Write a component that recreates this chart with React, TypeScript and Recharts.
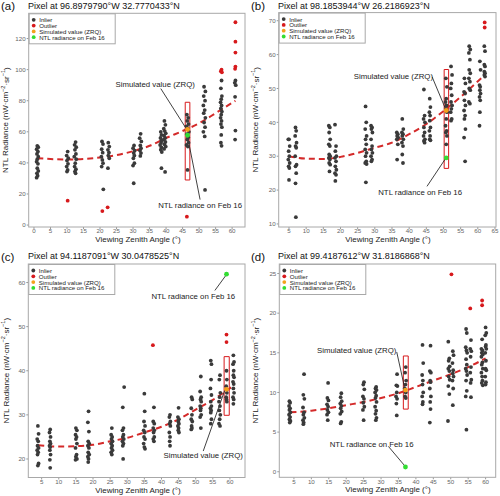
import {
  ComposedChart,
  Scatter,
  Line,
  XAxis,
  YAxis,
  ReferenceArea,
  ReferenceLine,
  ReferenceDot,
} from "recharts";

type Pt = [number, number];

// ---- panel (a) ----
const aInliers: Pt[] = [
  [1.0, 51], [1.3, 50.1], [0.8, 48.8], [1.2, 47.3], [0.9, 45.8], [1.3, 44], [1.0, 42.4], [0.8, 40.8], [1.2, 39.4], [1.0, 36.6], [1.3, 34.8], [0.9, 33.3], [1.1, 31.8], [0.8, 30.5],
  [10.2, 47.3], [9.9, 44.7], [10.4, 43], [10.0, 41.5], [10.3, 39.4], [9.9, 37.6], [10.2, 35.5], [10.0, 34.4],
  [12.6, 53.4], [12.3, 51.6], [12.8, 50.1], [12.4, 48.4], [12.7, 45.8], [12.2, 44], [12.8, 42.4], [12.5, 39.8], [12.3, 37.6], [12.7, 35.9], [12.4, 34.4], [12.6, 33.3],
  [20.6, 53.8], [20.9, 52.1], [20.5, 48.8], [20.8, 46.6], [20.4, 44], [20.7, 41.9], [20.9, 39.8], [20.5, 37.6], [21.0, 23],
  [22.5, 53], [22.8, 50.5], [22.4, 48.4], [22.7, 46.6], [22.5, 44.7], [22.8, 43], [22.4, 36.6],
  [30.3, 51.2], [30.0, 49.5], [30.5, 47.9], [30.2, 46.3], [30.4, 44.7], [30.1, 43], [30.4, 39.8], [30.0, 38.3], [30.2, 26.9],
  [32.3, 58.7], [32.0, 55.9], [32.5, 53.8], [32.2, 51.2], [32.4, 49.5], [32.1, 47.9], [32.4, 46.3], [32.2, 44.5],
  [38.4, 60], [38.6, 58], [38.3, 56], [38.7, 54.5], [38.5, 53], [38.2, 51.5], [38.6, 50], [38.4, 48.5], [38.7, 47], [38.6, 36.6],
  [39.5, 67], [39.8, 64.5], [39.3, 62], [39.6, 60.5], [39.9, 59], [39.4, 57.5], [39.7, 56], [39.3, 55], [39.8, 53.5], [39.5, 52], [39.9, 50.5], [39.4, 49], [39.7, 34.2],
  [46.3, 71], [46.7, 69], [46.4, 67], [46.8, 65], [46.2, 63.5], [46.6, 62], [46.9, 60], [46.3, 58.5], [46.7, 56.5], [46.4, 55], [46.8, 53], [46.2, 51.5], [46.6, 50.5], [46.5, 35.5],
  [51.5, 89], [51.9, 86], [51.4, 83], [51.8, 80], [51.3, 77], [51.7, 74], [51.4, 72], [51.9, 69], [51.5, 66], [51.8, 63], [51.3, 60], [51.7, 57], [51.8, 22.6],
  [56.8, 93], [56.6, 88], [56.9, 83], [56.7, 81], [56.5, 79], [56.8, 77], [56.6, 75], [56.9, 73], [56.7, 71], [56.5, 69], [56.8, 67], [56.6, 65], [56.9, 63], [56.7, 58], [56.6, 53], [56.8, 51],
  [61.0, 93], [60.8, 91.5], [61.1, 90], [60.9, 82.5], [61.0, 60.8], [60.9, 55],
];
const aOutliers: Pt[] = [
  [10.2, 15.7], [20.7, 9], [22.3, 11.4], [46.3, 5.4], [56.8, 100], [56.6, 99], [56.9, 98.3],
  [61.0, 130.5], [61.0, 118], [61.0, 111], [61.0, 102], [60.9, 100.5],
];
const aSimulated: Pt[] = [[46.5, 61.5]];
const aFeb16: Pt[] = [[46.5, 57.8]];
const aTrend: Pt[] = [
  [1, 43], [5, 42.5], [10, 42.2], [15, 42.5], [20, 43.5], [25, 45], [30, 47.5], [35, 51], [40, 56], [45, 60.5], [50, 65.5], [55, 72], [61, 80],
];
const aXTicks = [0, 5, 10, 15, 20, 25, 30, 35, 40, 45, 50, 55, 60];
const aYTicks = [0, 20, 40, 60, 80, 100, 120];

// ---- panel (b) ----
const bInliers: Pt[] = [
  [5.0, 35], [4.8, 35], [5.2, 33], [4.9, 31.5], [5.1, 30], [4.8, 29], [5.2, 28], [4.9, 27], [5.1, 26.5], [5.0, 23],
  [6.9, 38.5], [7.1, 37.5], [6.8, 36], [7.2, 34], [6.9, 33], [7.1, 32.5], [6.8, 30], [7.2, 27.5], [6.9, 27], [7.1, 25], [6.9, 22], [7.0, 12],
  [16.6, 39], [16.9, 38.5], [16.7, 37], [17.0, 35], [16.6, 33.5], [16.9, 33], [16.7, 30.5], [17.0, 30], [16.6, 29.5], [16.9, 29], [16.7, 28], [17.0, 27.5], [16.8, 25.5],
  [18.4, 39.3], [18.7, 33], [18.5, 31.5], [18.8, 30], [18.4, 29.5], [18.7, 28.5], [18.5, 27], [18.8, 26], [18.4, 25], [18.7, 24.5], [18.5, 22.7],
  [27.3, 44.7], [27.5, 40], [27.2, 38], [27.6, 36], [27.3, 35], [27.5, 33.5], [27.2, 32], [27.6, 31], [27.3, 30], [27.5, 28.5], [27.2, 28], [27.6, 27.7], [27.4, 22.3],
  [28.9, 39], [29.2, 38.5], [29.0, 38], [29.3, 37], [28.9, 35], [29.2, 33], [29.0, 32], [29.3, 31], [28.9, 30], [29.2, 29], [29.0, 28.5],
  [36.4, 37], [36.7, 36.5], [36.5, 36], [36.8, 35.5], [36.4, 35], [36.7, 33.5], [36.5, 29],
  [38.0, 41], [38.3, 38], [37.9, 37], [38.2, 36.5], [38.0, 36], [38.3, 35], [37.9, 34], [38.2, 33], [38.0, 30.5], [38.2, 28],
  [44.3, 49.7], [44.5, 42], [44.2, 41], [44.6, 40], [44.3, 38.5], [44.5, 37], [44.2, 36], [44.6, 35], [44.3, 34.5], [44.5, 34],
  [46.0, 47], [46.2, 44.5], [45.9, 43], [46.1, 42], [46.0, 40.5], [46.2, 38.5], [45.9, 37.5], [46.1, 36], [46.0, 35], [46.2, 34.7],
  [50.7, 53], [51.0, 50.5], [50.8, 47], [50.6, 46], [50.9, 45], [50.7, 44], [51.0, 43], [50.8, 41], [50.6, 39], [50.9, 37.5], [50.7, 37], [51.0, 36], [50.8, 33.5],
  [52.2, 56.5], [52.5, 54], [52.3, 51.5], [52.1, 50], [52.4, 48], [52.2, 46], [52.5, 45], [52.3, 44], [52.1, 43], [52.4, 41], [52.2, 40.5],
  [56.1, 53], [56.4, 51.5], [56.0, 49], [56.3, 48.5], [56.1, 46.5], [56.4, 45], [56.0, 43.5], [56.3, 42], [56.1, 41], [56.4, 38], [56.0, 35.5], [56.3, 28.5],
  [57.5, 62.5], [57.8, 61.5], [57.4, 60.5], [57.7, 58.5], [57.5, 55.5], [57.8, 54.5], [57.4, 53], [57.7, 52], [57.5, 50], [57.8, 49.5], [57.4, 46], [57.7, 45.5],
  [60.6, 58], [60.8, 55.5], [60.5, 51], [60.7, 50.5], [60.6, 49.5], [60.8, 48.5], [60.5, 47.5], [60.7, 46.5], [60.6, 43], [60.5, 39],
  [61.9, 62.5], [62.1, 61], [61.9, 57], [62.1, 56.5], [61.9, 55], [62.1, 54.5], [61.9, 54], [62.1, 53.5],
];
const bOutliers: Pt[] = [[62.0, 69.5], [62.0, 68]];
const bSimulated: Pt[] = [[50.8, 43.5]];
const bFeb16: Pt[] = [[50.8, 29.5]];
const bTrend: Pt[] = [
  [5, 30], [10, 29.3], [15, 29.2], [20, 29.8], [25, 31], [30, 32.5], [35, 34], [40, 36.5], [45, 39.5], [50, 43.3], [55, 47.5], [62, 54],
];
const bXTicks = [5, 10, 15, 20, 25, 30, 35, 40, 45, 50, 55, 60, 65];
const bYTicks = [10, 20, 30, 40, 50, 60, 70];

// ---- panel (c) ----
const cInliers: Pt[] = [
  [3.9, 27.5], [4.1, 25.7], [3.7, 24.5], [4.0, 24], [3.8, 23], [4.1, 22.5], [3.7, 22], [4.0, 21.5], [3.8, 21], [4.1, 19], [3.9, 18.5],
  [7.5, 26.7], [7.3, 26], [7.6, 25], [7.4, 24], [7.6, 23.5], [7.3, 23], [7.5, 22.7], [7.4, 22], [7.6, 21], [7.4, 19.8], [7.5, 18],
  [15.0, 27], [15.3, 26.5], [14.9, 25.5], [15.2, 25], [15.0, 24.5], [15.3, 23.5], [14.9, 22.5], [15.2, 21], [15.0, 20.5], [15.3, 20], [14.9, 19.8],
  [18.7, 30.8], [18.5, 28.3], [18.8, 26.2], [18.6, 24], [18.9, 23.5], [18.5, 23], [18.8, 22.5], [18.6, 21.5], [18.9, 21], [18.5, 20.5], [18.7, 20], [18.6, 19.3],
  [25.5, 27], [25.3, 25.5], [25.6, 25], [25.4, 24.5], [25.7, 24], [25.3, 23.5], [25.6, 23], [25.4, 22.5], [25.7, 22], [25.3, 21.5], [25.5, 21],
  [29.1, 36.3], [28.7, 31.7], [28.9, 27], [28.6, 26.5], [28.9, 25.5], [28.7, 25], [29.0, 24.5], [28.6, 24], [28.9, 23.5], [28.7, 23], [28.8, 20],
  [35.0, 34.8], [35.1, 30.8], [34.9, 28.5], [35.2, 27.5], [34.8, 26.5], [35.1, 26], [34.9, 25], [35.2, 24.5], [34.8, 23.5], [35.0, 22.7], [35.2, 22.3],
  [37.8, 31.7], [37.6, 28.5], [37.9, 28], [37.6, 27], [37.9, 26.5], [37.7, 26], [37.9, 25], [37.6, 24.5], [37.8, 24],
  [42.5, 30], [42.3, 29.5], [42.6, 28.5], [42.4, 28], [42.6, 27.5], [42.3, 26], [42.5, 25], [42.4, 24], [42.5, 23],
  [45.0, 31.6], [44.8, 29.5], [45.1, 29], [44.9, 28.5], [45.1, 28], [44.8, 27.5], [45.0, 27], [44.9, 26.5], [45.1, 26],
  [48.8, 34], [49.0, 33.5], [48.7, 31.5], [48.9, 30], [48.7, 29], [49.0, 28.5], [48.8, 27.5], [48.9, 27], [48.7, 26.7],
  [51.5, 38.7], [51.3, 35.3], [51.6, 34], [51.4, 33.5], [51.6, 33], [51.3, 32], [51.5, 31.5], [51.4, 31], [51.6, 30], [51.3, 29.5], [51.5, 27],
  [54.4, 42.3], [54.6, 41.5], [54.5, 38], [54.3, 36], [54.6, 34.5], [54.4, 33], [54.6, 32], [54.3, 31.5], [54.5, 31], [54.4, 30.5], [54.6, 29], [54.4, 28],
  [57.1, 39], [56.9, 38], [57.2, 35], [57.0, 34], [56.8, 33], [57.1, 32], [56.9, 31], [57.2, 30], [57.0, 29], [56.8, 28], [57.1, 27.5],
  [59.0, 40], [59.1, 38], [58.9, 36.5], [59.1, 35], [58.9, 34], [59.0, 33.5], [59.1, 33],
  [61.0, 43.5], [61.2, 42], [60.9, 41.5], [61.1, 40], [61.0, 39], [61.2, 38.5], [60.9, 37.5], [61.1, 37], [61.0, 36], [61.2, 35], [60.9, 34], [61.1, 33.5], [61.0, 32.5],
];
const cOutliers: Pt[] = [[37.5, 45.8], [59.0, 48.2], [59.0, 46.5]];
const cSimulated: Pt[] = [[59.0, 35.8]];
const cFeb16: Pt[] = [[59.0, 61.9]];
const cTrend: Pt[] = [
  [4, 23.1], [10, 22.8], [15, 22.9], [20, 23.2], [25, 24], [30, 24.8], [35, 26], [40, 27.3], [45, 29], [50, 31.2], [55, 33.4], [61, 36.6],
];
const cXTicks = [5, 10, 15, 20, 25, 30, 35, 40, 45, 50, 55, 60];
const cYTicks = [20, 30, 40, 50, 60];

// ---- panel (d) ----
const dInliers: Pt[] = [
  [3.7, 8.9], [3.9, 8.7], [3.6, 8.3], [3.9, 8], [3.7, 7.8], [4.0, 7.5], [3.6, 7.2], [3.9, 6.9], [3.7, 6.6], [4.0, 6.4], [3.8, 6.2],
  [7.9, 12.3], [7.7, 9.7], [8.0, 9.2], [7.6, 8.1], [7.9, 7.5], [7.7, 7.2], [8.0, 6.8], [7.6, 6.5], [7.8, 6.2], [7.7, 6.0],
  [14.8, 11.2], [14.6, 9.3], [14.9, 9], [14.5, 8.5], [14.8, 8.2], [14.6, 7.8], [14.9, 7.5], [14.5, 7.2], [14.7, 6.5],
  [18.6, 9.9], [18.4, 9.4], [18.7, 8.9], [18.3, 8.6], [18.6, 8.3], [18.4, 8], [18.7, 7.6], [18.3, 7.3], [18.6, 6.3], [18.4, 6.1],
  [25.1, 11.3], [24.9, 11], [25.2, 10.4], [24.8, 9.5], [25.1, 9.2], [24.9, 8.7], [25.2, 8.2], [24.8, 7.8], [25.0, 6.5],
  [28.6, 10.7], [28.4, 10.5], [28.7, 10.3], [28.3, 10], [28.6, 9.6], [28.4, 9.3], [28.7, 8.8], [28.3, 8.2], [28.6, 7.7], [28.4, 7.3], [28.7, 6.8], [28.5, 6.5],
  [34.6, 12.3], [34.4, 10.9], [34.7, 10.8], [34.5, 10], [34.3, 9.5], [34.6, 9.2], [34.4, 8.6], [34.5, 7.1],
  [37.1, 13.2], [36.9, 12.5], [37.2, 11.5], [37.0, 11], [36.8, 10.5], [37.1, 10], [36.9, 9.5], [37.1, 9.3],
  [41.9, 16], [42.1, 13.7], [41.8, 12.2], [42.0, 11.5], [41.9, 11], [42.1, 10], [41.8, 9.5], [42.0, 8.8], [41.9, 8.5],
  [44.2, 15.9], [44.0, 12.7], [44.3, 12.5], [44.1, 11.5], [44.2, 11.3], [44.0, 10.5], [44.3, 9.5], [44.1, 8.8], [44.2, 7.9], [44.0, 6.2],
  [49.3, 16.4], [49.6, 14.3], [49.4, 14], [49.7, 13.3], [49.3, 13], [49.6, 12.7], [49.4, 12], [49.7, 11.6], [49.3, 10.8], [49.6, 9.8], [49.2, 6.4],
  [50.6, 15.2], [50.8, 14.7], [50.5, 13.7], [50.7, 12.8], [50.6, 12.4], [50.8, 12], [50.5, 11.5], [50.7, 10.5], [50.6, 8.4],
  [54.4, 18], [54.6, 17.5], [54.3, 15.7], [54.5, 15.3], [54.7, 15], [54.4, 14.2], [54.6, 13.5], [54.3, 13], [54.5, 12.7], [54.7, 12.2], [54.4, 11.5], [54.6, 10.2], [54.3, 9.5], [54.5, 5.3],
  [55.8, 16.6], [55.6, 15.5], [55.9, 15.2], [55.7, 14.5], [55.8, 13.2], [55.6, 12.5], [55.9, 11.6], [55.7, 11.2], [55.8, 9.4],
  [59.0, 16.7], [58.8, 15.5], [59.1, 15.3], [58.9, 15], [59.2, 14.8], [58.8, 14.5], [59.1, 13.8], [58.9, 13.5], [59.2, 13], [58.8, 12.5], [59.0, 12], [59.1, 11.5], [58.9, 11.2], [59.2, 10.9],
  [60.0, 18.2], [60.2, 17.5], [59.9, 17.2], [60.1, 16], [60.0, 15.8], [60.2, 15.5], [59.9, 15], [60.1, 14], [60.0, 13], [60.2, 12.8], [59.9, 12], [60.1, 11.3], [60.0, 11],
];
const dOutliers: Pt[] = [[50.2, 24.9], [55.6, 20.6], [59.0, 21.6], [59.0, 21]];
const dSimulated: Pt[] = [[37.0, 10.3]];
const dFeb16: Pt[] = [[37.0, 0.6]];
const dTrend: Pt[] = [
  [4, 7.5], [10, 7.7], [15, 8], [20, 8.4], [25, 8.8], [30, 9.3], [35, 9.9], [40, 10.7], [45, 11.5], [50, 12.3], [55, 13.2], [60, 14.3],
];
const dXTicks = [5, 10, 15, 20, 25, 30, 35, 40, 45, 50, 55, 60];
const dYTicks = [0, 5, 10, 15, 20, 25];

const legendLabels = ["Inlier", "Outlier", "Simulated value (ZRQ)", "NTL radiance on Feb 16"];

const INLIER = "#3a3a3a";
const OUTLIER = "#d7191c";
const SIMULATED = "#f4a11c";
const FEB16 = "#33dd33";
const TREND = "#d42a2a";
const FONT = "'Liberation Sans', Arial, sans-serif";

const toXY = (pts: Pt[]) => pts.map(([x, y]) => ({ x, y }));

const dot = (color: string, r: number) => (p: any) =>
  <circle cx={p.cx} cy={p.cy} r={r} fill={color} />;

interface Note {
  text: string;
  at: Pt;
  from: Pt;
  to: Pt;
}

interface PanelProps {
  tag: string;
  title: string;
  box: { left: number; top: number; width: number; height: number };
  plot: { l: number; t: number; r: number; b: number };
  xDomain: [number, number];
  yDomain: [number, number];
  xTicks: number[];
  yTicks: number[];
  inliers: Pt[];
  outliers: Pt[];
  simulated: Pt[];
  feb16: Pt[];
  trend: Pt[];
  rect: [number, number, number, number];
  notes: Note[];
}

function Panel(p: PanelProps) {
  const { box, plot } = p;
  const tickStyle = { fontSize: 6.2, fill: "#666", fontFamily: FONT };
  return (
    <div style={{ position: "absolute", left: box.left, top: box.top, width: box.width, height: box.height }}>
      <ComposedChart
        width={box.width}
        height={box.height}
        margin={{ top: plot.t - box.top, right: box.left + box.width - plot.r, bottom: 0, left: 0 }}
      >
        <XAxis
          type="number"
          dataKey="x"
          domain={p.xDomain}
          ticks={p.xTicks}
          allowDataOverflow
          height={box.top + box.height - plot.b}
          tick={tickStyle}
          tickSize={2}
          tickMargin={0}
          axisLine={false}
          tickLine={{ stroke: "#999" }}
          interval={0}
        />
        <YAxis
          type="number"
          dataKey="y"
          domain={p.yDomain}
          ticks={p.yTicks}
          allowDataOverflow
          width={plot.l - box.left}
          tick={tickStyle}
          tickSize={2}
          tickMargin={1}
          axisLine={false}
          tickLine={{ stroke: "#999" }}
          interval={0}
        />
        <Scatter data={toXY(p.inliers)} fill={INLIER} shape={dot(INLIER, 1.9)} isAnimationActive={false} />
        <Scatter data={toXY(p.outliers)} fill={OUTLIER} shape={dot(OUTLIER, 1.9)} isAnimationActive={false} />
        <Line
          data={toXY(p.trend)}
          dataKey="y"
          type="monotone"
          stroke={TREND}
          strokeWidth={2}
          strokeDasharray="6 4"
          dot={false}
          activeDot={false}
          isAnimationActive={false}
        />
        <ReferenceArea
          x1={p.rect[0]}
          x2={p.rect[1]}
          y1={p.rect[2]}
          y2={p.rect[3]}
          fill="none"
          fillOpacity={0}
          stroke={OUTLIER}
          strokeWidth={1}
        />
        {p.notes.map((n, i) => (
          <ReferenceLine
            key={`l${i}`}
            segment={[{ x: n.from[0], y: n.from[1] }, { x: n.to[0], y: n.to[1] }]}
            stroke="#111"
            strokeWidth={0.8}
          />
        ))}
        {p.notes.map((n, i) => (
          <ReferenceDot
            key={`t${i}`}
            x={n.at[0]}
            y={n.at[1]}
            r={0}
            fill="none"
            stroke="none"
            label={{ value: n.text, position: "center", fontSize: 7.8, fill: "#222", fontFamily: FONT }}
          />
        ))}
        <Scatter data={toXY(p.feb16)} fill={FEB16} shape={dot(FEB16, 2.4)} isAnimationActive={false} />
        <Scatter data={toXY(p.simulated)} fill={SIMULATED} shape={dot(SIMULATED, 2.4)} isAnimationActive={false} />
      </ComposedChart>
    </div>
  );
}

function Decor({ p }: { p: PanelProps }) {
  const { box, plot } = p;
  const titleY = box.top === 0 ? 8.5 : 259;
  const midY = (plot.t + plot.b) / 2;
  const ytx = box.left + 6;
  const colors = [INLIER, OUTLIER, SIMULATED, FEB16];
  return (
    <g fontFamily={FONT}>
      <rect x={plot.l} y={plot.t} width={plot.r - plot.l} height={plot.b - plot.t} fill="none" stroke="#a8a8a8" strokeWidth={1} />
      <text x={box.left + 1} y={titleY + 1.5} fontSize={11.5} fill="#111">{p.tag}</text>
      <text x={box.left + 28} y={titleY} fontSize={9} fill="#111">{p.title}</text>
      <text
        x={ytx}
        y={midY}
        fontSize={8}
        fill="#222"
        textAnchor="middle"
        dominantBaseline="central"
        transform={`rotate(-90 ${ytx} ${midY})`}
      >
        NTL Radiance (nW·cm<tspan dy={-3} fontSize={5.5}>−2</tspan>
        <tspan dy={3}>·sr</tspan>
        <tspan dy={-3} fontSize={5.5}>−1</tspan>
        <tspan dy={3}>)</tspan>
      </text>
      <text x={box.left + 138} y={plot.b + 15} fontSize={8} fill="#222" textAnchor="middle">
        Viewing Zenith Angle (°)
      </text>
      <rect x={plot.l + 0.5} y={plot.t + 0.5} width={86} height={30} fill="#fff" stroke="#a8a8a8" strokeWidth={1} />
      {legendLabels.map((lab, i) => (
        <g key={lab}>
          <circle cx={plot.l + 5} cy={plot.t + 6.5 + i * 5.8} r={1.9} fill={colors[i]} />
          <text x={plot.l + 10.5} y={plot.t + 6.5 + i * 5.8} fontSize={6.1} fill="#222" dominantBaseline="central">
            {lab}
          </text>
        </g>
      ))}
    </g>
  );
}

const panels: PanelProps[] = [
  {
    tag: "(a)",
    title: "Pixel at 96.8979790°W 32.7770433°N",
    box: { left: 0, top: 0, width: 250, height: 248 },
    plot: { l: 28.7, t: 13.3, r: 245, b: 227 },
    xDomain: [-1.6, 63.9],
    yDomain: [-1.25, 136.25],
    xTicks: aXTicks,
    yTicks: aYTicks,
    inliers: aInliers,
    outliers: aOutliers,
    simulated: aSimulated,
    feb16: aFeb16,
    trend: aTrend,
    rect: [45.8, 47.2, 29, 79],
    notes: [
      { text: "Simulated value (ZRQ)", at: [36.7, 90.8], from: [38.4, 87.8], to: [46.0, 62.4] },
      { text: "NTL radiance on Feb 16", at: [50.3, 12.9], from: [50.3, 16.4], to: [46.4, 58] },
    ],
  },
  {
    tag: "(b)",
    title: "Pixel at 98.1853944°W 26.2186923°N",
    box: { left: 250, top: 0, width: 250, height: 248 },
    plot: { l: 278.7, t: 12.6, r: 496, b: 227 },
    xDomain: [2.0, 65.3],
    yDomain: [9.1, 72.4],
    xTicks: bXTicks,
    yTicks: bYTicks,
    inliers: bInliers,
    outliers: bOutliers,
    simulated: bSimulated,
    feb16: bFeb16,
    trend: bTrend,
    rect: [50.2, 51.5, 26.4, 55.6],
    notes: [
      { text: "Simulated value (ZRQ)", at: [35.4, 53.5], from: [46.7, 53.4], to: [50.5, 44.2] },
      { text: "NTL radiance on Feb 16", at: [43.2, 19.4], from: [45.2, 21.1], to: [50.6, 29.3] },
    ],
  },
  {
    tag: "(c)",
    title: "Pixel at 94.1187091°W 30.0478525°N",
    box: { left: 0, top: 240, width: 250, height: 256 },
    plot: { l: 28.3, t: 264, r: 245, b: 477.5 },
    xDomain: [1.1, 64.4],
    yDomain: [15.8, 64.2],
    xTicks: cXTicks,
    yTicks: cYTicks,
    inliers: cInliers,
    outliers: cOutliers,
    simulated: cSimulated,
    feb16: cFeb16,
    trend: cTrend,
    rect: [58.3, 59.8, 29.9, 43.2],
    notes: [
      { text: "NTL radiance on Feb 16", at: [49.3, 56.9], from: [55.6, 58.2], to: [58.9, 61.7] },
      { text: "Simulated value (ZRQ)", at: [52.2, 20.8], from: [52.2, 21.8], to: [58.5, 35.6] },
    ],
  },
  {
    tag: "(d)",
    title: "Pixel at 99.4187612°W 31.8186868°N",
    box: { left: 250, top: 240, width: 250, height: 256 },
    plot: { l: 279.3, t: 264, r: 495.7, b: 477.3 },
    xDomain: [0.8, 62.9],
    yDomain: [-0.7, 26.2],
    xTicks: dXTicks,
    yTicks: dYTicks,
    inliers: dInliers,
    outliers: dOutliers,
    simulated: dSimulated,
    feb16: dFeb16,
    trend: dTrend,
    rect: [36.4, 37.8, 7.9, 14.6],
    notes: [
      { text: "Simulated value (ZRQ)", at: [23.0, 15.3], from: [34.5, 15.1], to: [36.7, 10.7] },
      { text: "NTL radiance on Feb 16", at: [27.3, 3.5], from: [32.1, 3.2], to: [36.7, 0.8] },
    ],
  },
];

export default function App() {
  return (
    <div style={{ position: "absolute", left: 0, top: 0, width: 500, height: 496, background: "#fff", overflow: "hidden" }}>
      {panels.map((p) => (
        <Panel key={p.tag} {...p} />
      ))}
      <svg width={500} height={496} style={{ position: "absolute", left: 0, top: 0, pointerEvents: "none" }}>
        {panels.map((p) => (
          <Decor key={p.tag} p={p} />
        ))}
      </svg>
    </div>
  );
}
